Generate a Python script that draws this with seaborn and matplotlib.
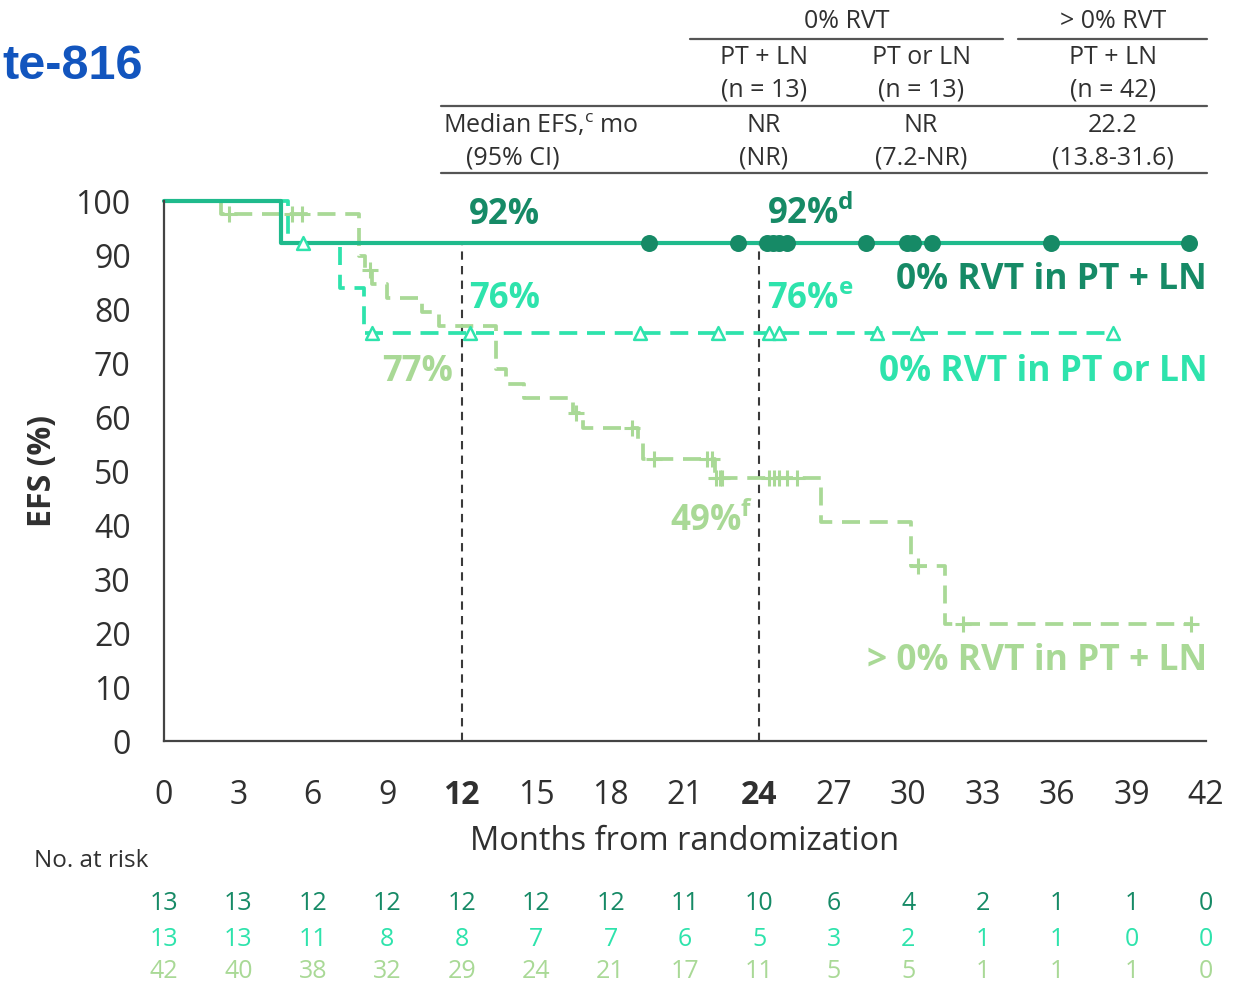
import numpy as np
import pandas as pd
import matplotlib
matplotlib.use("Agg")
import matplotlib.pyplot as plt
import seaborn as sns
from matplotlib.lines import Line2D
from matplotlib.transforms import blended_transform_factory

# ---------------- data ----------------
months_ticks = [0, 3, 6, 9, 12, 15, 18, 21, 24, 27, 30, 33, 36, 39, 42]
efs_ticks = [0, 10, 20, 30, 40, 50, 60, 70, 80, 90, 100]

# 0% RVT in PT + LN
c1_time = [0, 4.7, 41.3]
c1_surv = [100, 92.3, 92.3]
c1_cens = [19.55, 23.15, 24.3, 24.55, 24.8, 25.1, 28.3, 29.95, 30.2, 30.95, 35.75, 41.3]

# 0% RVT in PT or LN
c2_time = [0, 5.0, 7.1, 8.05, 38.25]
c2_surv = [100, 92.3, 83.9, 75.5, 75.5]
c2_cens = [5.6, 8.4, 12.35, 19.2, 22.35, 24.4, 24.8, 28.75, 30.35, 38.25]

# > 0% RVT in PT + LN
c3_time = [0, 2.3, 7.87, 8.1, 8.4, 9.0, 10.4, 11.1, 13.4, 13.8, 14.5, 16.5, 16.9,
           19.1, 19.3, 22.2, 26.5, 30.1, 31.5, 41.4]
c3_surv = [100, 97.6, 89.9, 87.3, 84.7, 82.0, 79.4, 76.9, 68.8, 66.2, 63.5, 60.8, 58.0,
           55.1, 52.2, 48.7, 40.6, 32.5, 21.7, 21.7]
c3_cens = [2.6, 5.15, 5.55, 8.3, 16.6, 18.85, 19.75, 21.9, 22.1, 22.25, 22.4, 22.5,
           24.4, 24.6, 24.8, 25.1, 25.5, 30.4, 32.2, 41.4]

risk_c1 = [13, 13, 12, 12, 12, 12, 12, 11, 10, 6, 4, 2, 1, 1, 0]
risk_c2 = [13, 13, 11, 8, 8, 7, 7, 6, 5, 3, 2, 1, 1, 0, 0]
risk_c3 = [42, 40, 38, 32, 29, 24, 21, 17, 11, 5, 5, 1, 1, 1, 0]

table_cols = ["PT + LN", "PT or LN", "PT + LN"]
table_n = ["(n = 13)", "(n = 13)", "(n = 42)"]
table_median = ["NR", "NR", "22.2"]
table_ci = ["(NR)", "(7.2-NR)", "(13.8-31.6)"]

# ---------------- style ----------------
C1_LINE = "#1fba8c"
C1_DARK = "#168a66"
C2 = "#2ee3ac"
C3 = "#a9d996"
GREY = "#303030"

sns.set_theme(style="white")
plt.rcParams["font.family"] = ["Open Sans", "DejaVu Sans"]
plt.rcParams["font.weight"] = "medium"
plt.rcParams["mathtext.fontset"] = "custom"
plt.rcParams["mathtext.rm"] = "Open Sans"
plt.rcParams["mathtext.bf"] = "Open Sans:bold"

W, H = 1245, 984
fig = plt.figure(figsize=(W / 100, H / 100), dpi=100)
ax = fig.add_axes([164 / W, 1 - 741 / H, (1206 - 164) / W, (741 - 201) / H])

def fx(px):
    return px / W

def fy(py):
    return 1 - py / H

def step_lookup(times, surv, x):
    idx = np.searchsorted(np.asarray(times), np.asarray(x), side="right") - 1
    return np.asarray(surv)[idx]

dash = (0, (4.8, 2.6))

# curves
sns.lineplot(x=c3_time, y=c3_surv, ax=ax, color=C3, lw=2.7, linestyle=dash,
             drawstyle="steps-post", estimator=None, sort=False, clip_on=False)
sns.lineplot(x=c2_time, y=c2_surv, ax=ax, color=C2, lw=2.7, linestyle=dash,
             drawstyle="steps-post", estimator=None, sort=False, clip_on=False)
sns.lineplot(x=c1_time, y=c1_surv, ax=ax, color=C1_LINE, lw=3.0,
             drawstyle="steps-post", estimator=None, sort=False, clip_on=False)

# censor marks
sns.scatterplot(x=c3_cens, y=step_lookup(c3_time, c3_surv, c3_cens), ax=ax,
                marker="+", s=140, color=C3, linewidth=2.2, zorder=4, clip_on=False)
sns.scatterplot(x=c2_cens, y=step_lookup(c2_time, c2_surv, c2_cens), ax=ax,
                marker="^", s=85, facecolor="white", edgecolor=C2, linewidth=1.8,
                zorder=5, clip_on=False)
sns.scatterplot(x=c1_cens, y=step_lookup(c1_time, c1_surv, c1_cens), ax=ax,
                marker="o", s=150, color=C1_DARK, edgecolor=C1_DARK, linewidth=0,
                zorder=6, clip_on=False)

# reference lines at 12 and 24 months
ax.vlines([12, 24], 0, c1_surv[-1], colors="#3a3a3a", linestyles=(0, (4, 3)),
          lw=1.5, zorder=1)

# axes
ax.set_xlim(0, 42)
ax.set_ylim(0, 100)
ax.set_xticks(months_ticks)
ax.set_yticks(efs_ticks)
ax.set_xticks([12, 24], minor=True)
ax.tick_params(axis="both", which="major", direction="out", length=16, width=1.5,
               color="#444444", labelsize=23, labelcolor=GREY, pad=8)
ax.tick_params(axis="x", which="major", pad=11)
ax.tick_params(axis="x", which="minor", direction="in", length=6.5, width=1.5,
               color="#444444")
for lab in ax.get_xticklabels():
    if lab.get_text() in ("12", "24"):
        lab.set_fontweight("bold")
for side in ("top", "right"):
    ax.spines[side].set_visible(False)
for side in ("left", "bottom"):
    ax.spines[side].set_color("#444444")
    ax.spines[side].set_linewidth(1.6)
ax.set_xlabel("Months from randomization", fontsize=23.5, color=GREY, labelpad=10)
ax.set_ylabel("EFS (%)", fontsize=23, color=GREY, fontweight="bold", labelpad=12)

# in-plot annotations
ax.text(12.3, 97.4, "92%", color=C1_DARK, fontsize=25, fontweight="bold", va="center")
ax.text(24.3, 97.4, r"92%$^{\mathbf{d}}$", color=C1_DARK, fontsize=25,
        fontweight="bold", va="center")
ax.text(12.3, 81.8, "76%", color=C2, fontsize=25, fontweight="bold", va="center")
ax.text(24.3, 81.8, r"76%$^{\mathbf{e}}$", color=C2, fontsize=25,
        fontweight="bold", va="center")
ax.text(11.65, 68.3, "77%", color=C3, fontsize=25, fontweight="bold", va="center",
        ha="right")
ax.text(23.75, 40.7, r"49%$^{\mathbf{f}}$", color=C3, fontsize=25, fontweight="bold",
        va="center", ha="right")
ax.text(42.05, 85.4, "0% RVT in PT + LN", color=C1_DARK, fontsize=25.5,
        fontweight="bold", va="center", ha="right")
ax.text(42.05, 68.4, "0% RVT in PT or LN", color=C2, fontsize=25.5,
        fontweight="bold", va="center", ha="right")
ax.text(42.05, 14.9, "> 0% RVT in PT + LN", color=C3, fontsize=25.5,
        fontweight="bold", va="center", ha="right")

# number at risk
tr = blended_transform_factory(ax.transData, fig.transFigure)
fig.text(fx(34), fy(861), "No. at risk", fontsize=17.5, color=GREY, va="center")
for row, col, py in ((risk_c1, C1_DARK, 904), (risk_c2, C2, 939), (risk_c3, C3, 972)):
    for m, v in zip(months_ticks, row):
        ax.text(m, fy(py), str(v), transform=tr, ha="center", va="center",
                fontsize=18, color=col, clip_on=False)

# title fragment
fig.text(fx(143), fy(66), "te-816", fontsize=35, fontweight="bold", color="#1255be",
         ha="right", va="center", family=["Liberation Sans", "DejaVu Sans"])

# summary table
tfs = 18
fig.text(fx(847), fy(22), "0% RVT", fontsize=tfs, color=GREY, ha="center", va="center")
fig.text(fx(1113), fy(22), "> 0% RVT", fontsize=tfs, color=GREY, ha="center", va="center")
for x0, x1, y in ((690, 1003, 39), (1018, 1207, 39), (441, 1207, 106), (441, 1207, 173)):
    fig.add_artist(Line2D([fx(x0), fx(x1)], [fy(y), fy(y)], color="#555555", lw=1.6))
col_x = [764, 921, 1113]
for cx, a, b, c, d in zip(col_x, table_cols, table_n, table_median, table_ci):
    fig.text(fx(cx), fy(58), a, fontsize=tfs, color=GREY, ha="center", va="center")
    fig.text(fx(cx), fy(90), b, fontsize=tfs, color=GREY, ha="center", va="center")
    fig.text(fx(cx), fy(126), c, fontsize=tfs, color=GREY, ha="center", va="center")
    fig.text(fx(cx), fy(158), d, fontsize=tfs, color=GREY, ha="center", va="center")
fig.text(fx(443), fy(126), r"Median EFS,$^{\rm c}$ mo", fontsize=tfs, color=GREY,
         ha="left", va="center")
fig.text(fx(466), fy(158), "(95% CI)", fontsize=tfs, color=GREY, ha="left", va="center")

fig.savefig("out.png", dpi=100)
